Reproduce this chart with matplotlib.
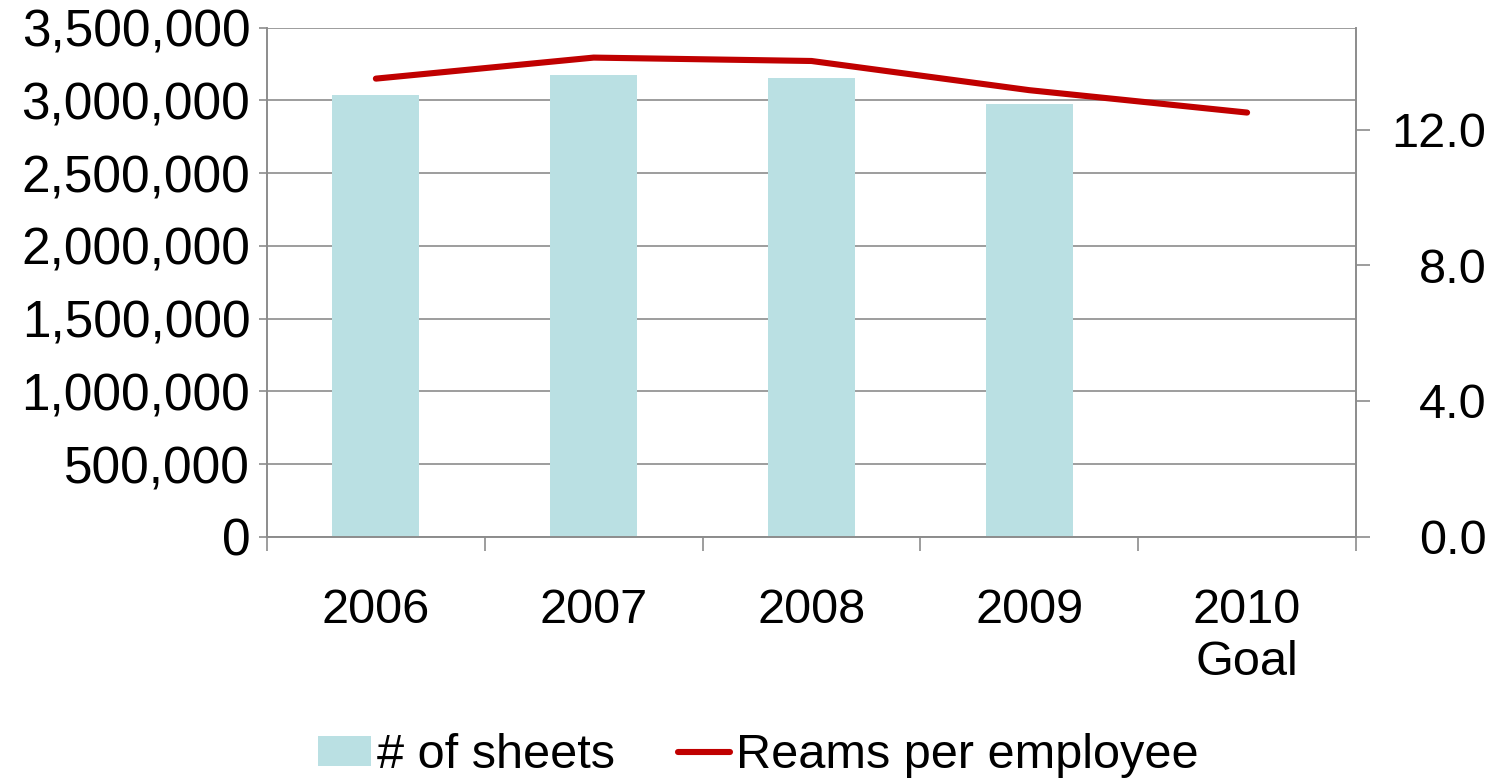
import numpy as np
import matplotlib
matplotlib.use('Agg')
import matplotlib.pyplot as plt
from matplotlib.ticker import FuncFormatter, FixedLocator

plt.rcParams['font.family'] = ['Liberation Sans', 'DejaVu Sans']

# data
years = ['2006', '2007', '2008', '2009', '2010\nGoal']
sheets = [3040000, 3177000, 3157000, 2976000, np.nan]
reams = [13.50, 14.12, 14.02, 13.16, 12.50]

BAR = '#BAE0E3'
LINE = '#C00000'
GRID = '#8C8C8C'
FS = 35

fig = plt.figure(figsize=(14.99, 7.79), dpi=100)
ax = fig.add_axes([0.1781, 0.311, 0.7265, 0.6534])
ax2 = ax.twinx()

xs = np.arange(len(years))
ax.bar(xs, sheets, width=0.4, color=BAR, zorder=2, label='# of sheets')
ax2.plot(xs, reams, color=LINE, lw=4.4, solid_capstyle='round',
         solid_joinstyle='round', label='Reams per employee')

ax.set_xlim(-0.5, len(years) - 0.5)
ax.set_ylim(0, 3500000)
ax.set_yticks(np.arange(0, 3500001, 500000))
ax.yaxis.set_major_formatter(FuncFormatter(lambda v, p: f'{v:,.0f}'))
ax.grid(True, axis='y', color=GRID, lw=1.2, zorder=0)
ax.set_axisbelow(True)

# category boundaries get tick marks, labels sit at the centres
ax.xaxis.set_major_locator(FixedLocator(np.arange(-0.5, len(years), 1.0)))
ax.xaxis.set_minor_locator(FixedLocator(xs))
ax.set_xticklabels([], minor=False)
ax.set_xticklabels(years, minor=True, fontsize=FS, linespacing=1.2)
ax.tick_params(axis='x', which='major', length=10, width=1.2, color=GRID)
ax.tick_params(axis='x', which='minor', length=0, pad=37)
ax.tick_params(axis='y', length=6, width=1.2, color=GRID, labelsize=37, pad=6)

ax2.set_ylim(0, 15)
ax2.set_yticks([0, 4, 8, 12])
ax2.yaxis.set_major_formatter(FuncFormatter(lambda v, p: f'{v:.1f}'))
ax2.tick_params(axis='y', length=10, width=1.2, color=GRID, labelsize=FS, pad=84)
for t in ax2.get_yticklabels():
    t.set_horizontalalignment('right')

for a in (ax, ax2):
    for s in a.spines.values():
        s.set_color(GRID)
        s.set_linewidth(1.2)
    a.spines['top'].set_visible(False)

h1, l1 = ax.get_legend_handles_labels()
h2, l2 = ax2.get_legend_handles_labels()
fig.legend(h1 + h2, l1 + l2, loc='center', bbox_to_anchor=(0.506, 0.030),
           ncol=2, frameon=False, fontsize=FS, handlelength=1.08,
           handleheight=0.55, handletextpad=0.12, columnspacing=1.3)

fig.savefig('out.png', dpi=100)
